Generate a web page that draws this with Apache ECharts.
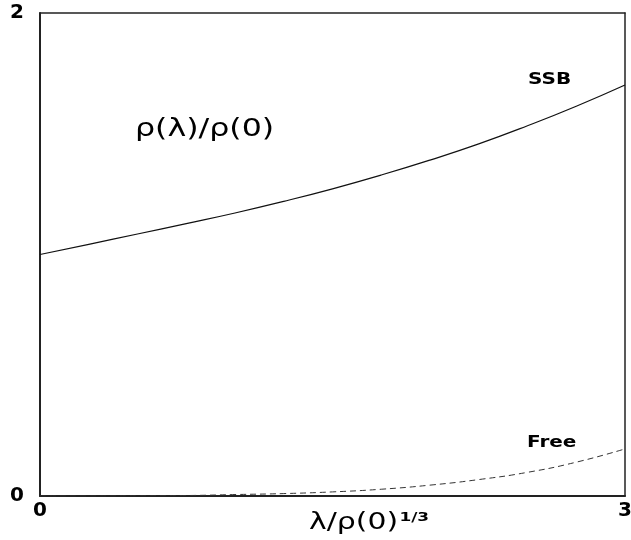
<!DOCTYPE html>
<html>
<head>
<meta charset="utf-8">
<script src="https://cdn.jsdelivr.net/npm/echarts@6/dist/echarts.min.js"></script>
<style>
  html, body { margin: 0; padding: 0; background: #fff; }
  #chart { width: 631px; height: 540px; }
</style>
</head>
<body>
<div id="chart"></div>
<script>
// Sampled curves, lambda / rho(0)^(1/3) from 0 to 3
const lambdaValues = [0, 0.25, 0.5, 0.75, 1.0, 1.25, 1.5, 1.75, 2.0, 2.25, 2.5, 2.75, 3.0];
const ssbValues = [1.000, 1.042, 1.085, 1.128, 1.172, 1.220, 1.272, 1.329, 1.391, 1.458, 1.533, 1.614, 1.702];
const freeValues = [0, 0, 0.001, 0.002, 0.006, 0.010, 0.017, 0.028, 0.045, 0.068, 0.098, 0.140, 0.195];
const xTicks = [0, 3];
const yTicks = [0, 2];

const FONT = 'DejaVu Sans';
const WIDE = 1.32; // horizontal stretch for the wide plot lettering

function pairs(xs, ys) {
  return xs.map((x, i) => [x, ys[i]]);
}

const chart = echarts.init(document.getElementById('chart'), null, { renderer: 'canvas' });

chart.setOption({
  animation: false,
  backgroundColor: '#ffffff',
  grid: { left: 40, top: 13, right: 6, bottom: 44, containLabel: false, outerBoundsMode: 'none' },
  xAxis: [
    {
      type: 'value', min: xTicks[0], max: xTicks[1], interval: 3,
      axisLine: { show: true, lineStyle: { color: '#222', width: 2 } },
      axisTick: { show: false },
      splitLine: { show: false },
      axisLabel: { color: '#000', fontFamily: FONT, fontSize: 20, fontWeight: 'bold', margin: 5,
        formatter: v => (xTicks.includes(v) ? String(v) : '') }
    },
    {
      type: 'value', position: 'top', min: 0, max: 3,
      axisLine: { show: true, onZero: false, lineStyle: { color: '#222', width: 1.5 } },
      axisTick: { show: false }, axisLabel: { show: false }, splitLine: { show: false }
    }
  ],
  yAxis: [
    {
      type: 'value', min: yTicks[0], max: yTicks[1], interval: 2,
      axisLine: { show: true, lineStyle: { color: '#222', width: 2 } },
      axisTick: { show: false },
      splitLine: { show: false },
      axisLabel: { color: '#000', fontFamily: FONT, fontSize: 20, fontWeight: 'bold', margin: 16,
        formatter: v => (yTicks.includes(v) ? String(v) : '') }
    },
    {
      type: 'value', position: 'right', min: 0, max: 2,
      axisLine: { show: true, onZero: false, lineStyle: { color: '#222', width: 1.5 } },
      axisTick: { show: false }, axisLabel: { show: false }, splitLine: { show: false }
    }
  ],
  series: [
    {
      name: 'SSB', type: 'line', xAxisIndex: 0, yAxisIndex: 0,
      data: pairs(lambdaValues, ssbValues),
      smooth: 0.5, symbol: 'none',
      lineStyle: { color: '#111', width: 1.2 }
    },
    {
      name: 'Free', type: 'line', xAxisIndex: 0, yAxisIndex: 0,
      data: pairs(lambdaValues, freeValues),
      smooth: 0.5, symbol: 'none',
      lineStyle: { color: '#333', width: 1, type: [6, 4] }
    }
  ],
  graphic: [
    { type: 'text', x: 135, y: 130, scaleX: WIDE,
      style: { text: 'ρ(λ)/ρ(0)', fontFamily: FONT, fontSize: 24, fill: '#000',
        textVerticalAlign: 'middle' } },
    { type: 'text', x: 309, y: 523, scaleX: 1.3,
      style: {
        text: '{m|λ/ρ(0)}{s|1/3}', textVerticalAlign: 'middle',
        rich: {
          m: { fontFamily: FONT, fontSize: 23, fill: '#000', verticalAlign: 'bottom' },
          s: { fontFamily: FONT, fontSize: 13, fontWeight: 'bold', fill: '#000',
            verticalAlign: 'top', padding: [0, 0, 10, 1] }
        }
      } },
    { type: 'text', x: 528, y: 80, scaleX: 1.25,
      style: { text: 'SSB', fontFamily: FONT, fontSize: 16, fontWeight: 'bold', fill: '#000',
        textVerticalAlign: 'middle' } },
    { type: 'text', x: 527, y: 443, scaleX: 1.25,
      style: { text: 'Free', fontFamily: FONT, fontSize: 16, fontWeight: 'bold', fill: '#000',
        textVerticalAlign: 'middle' } }
  ]
});
</script>
</body>
</html>
